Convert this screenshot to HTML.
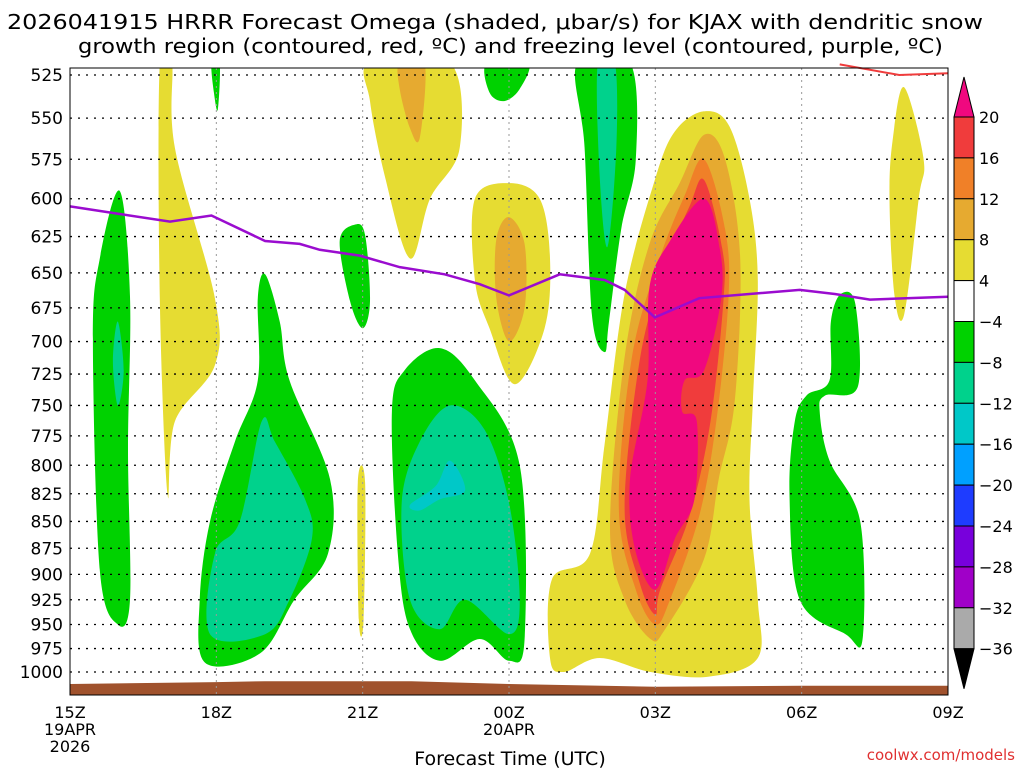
<!DOCTYPE html>
<html><head><meta charset="utf-8"><style>
body{margin:0;background:#fff;width:1024px;height:768px;overflow:hidden}
svg{display:block;font-family:"DejaVu Sans","Liberation Sans",sans-serif}
</style></head><body>
<svg id="chart" width="1024" height="768" viewBox="0 0 1024 768" xmlns="http://www.w3.org/2000/svg">
<defs><clipPath id="clip"><rect x="70" y="68" width="878" height="627"/></clipPath></defs>
<text x="7" y="29" font-size="20" textLength="976" lengthAdjust="spacingAndGlyphs">2026041915 HRRR Forecast Omega (shaded, μbar/s) for KJAX with dendritic snow</text>
<text x="78" y="53" font-size="20" textLength="865" lengthAdjust="spacingAndGlyphs">growth region (contoured, red, ºC) and freezing level (contoured, purple, ºC)</text>
<g id="shades"></g>
<g id="grid"></g>
<g id="lines"></g>
<rect x="70" y="68" width="878" height="627" fill="none" stroke="#000" stroke-width="1"/>
<g id="yaxis"></g>
<g id="xaxis"></g>
<text x="510" y="765" font-size="19" text-anchor="middle">Forecast Time (UTC)</text>
<text x="1015" y="760" font-size="15" fill="#e03030" text-anchor="end">coolwx.com/models</text>
<g id="cbar"></g>
</svg>
<script>
const pressureTicks=[525,550,575,600,625,650,675,700,725,750,775,800,825,850,875,900,925,950,975,1000];
const timeTicks=[0,3,6,9,12,15,18];
const timeLabels=["15Z","18Z","21Z","00Z","03Z","06Z","09Z"];
const dateLabels={0:["19APR","2026"],9:["20APR"]};
const cbarLevels=[20,16,12,8,4,-4,-8,-12,-16,-20,-24,-28,-32,-36];
const cbarColors=["#f03c3c","#f08028","#e6aa30","#e6dc32","#ffffff","#00d200","#00d28c","#00c8c8","#00a0ff","#1e3cff","#7800dc","#a000c8","#aaaaaa"];
const C={y:"#e6dc32",o1:"#e6aa30",o2:"#f08028",r:"#f03c3c",m:"#f0087f",g:"#00d200",t:"#00d28c",c:"#00c8c8"};
const regions=[
["g",[[1.02,595],[1.23,667],[1.19,786],[1.23,925],[0.98,950],[0.61,896],[0.47,698],[0.61,640]]],
["t",[[0.98,685],[1.1,722],[0.98,750],[0.88,715]]],
["y",[[1.84,518],[2.09,518],[2.15,568],[2.97,668],[2.97,718],[2.15,763],[2.0,826],[1.84,668]]],
["g",[[2.9,518],[3.07,518],[3.03,545],[2.95,535]]],
["g",[[4.0,651],[4.3,685],[4.5,730],[5.33,812],[5.29,880],[4.6,925],[3.9,980],[2.77,990],[2.66,925],[2.87,850],[3.38,780],[3.85,730],[3.85,668]]],
["t",[[3.93,763],[4.2,780],[4.82,830],[4.96,866],[4.5,925],[4.0,960],[2.87,960],[2.97,880],[3.48,850]]],
["g",[[5.84,617],[6.05,624],[6.15,670],[6.0,690],[5.74,670],[5.53,628]]],
["y",[[5.9,815],[6.05,815],[6.02,945],[5.92,945]]],
["y",[[6.15,518],[7.79,518],[7.99,568],[7.38,600],[6.97,640],[6.45,585],[6.15,540]]],
["o1",[[6.76,518],[7.27,518],[7.17,562],[6.97,556],[6.76,533]]],
["g",[[7.58,705],[8.3,730],[9.22,800],[9.32,965],[9.0,988],[8.4,965],[7.58,988],[6.97,955],[6.72,880],[6.6,755],[6.86,722]]],
["t",[[7.79,750],[8.5,770],[9.0,833],[9.22,925],[9.0,960],[8.1,925],[7.58,955],[6.97,925],[6.8,833],[7.17,780]]],
["c",[[7.79,796],[8.1,822],[7.58,830],[7.17,840],[6.97,835],[7.5,818]]],
["y",[[9.0,590],[9.63,600],[9.84,640],[9.73,690],[9.12,733],[8.6,690],[8.3,655],[8.3,600]]],
["o1",[[9.0,612],[9.32,630],[9.32,675],[9.0,700],[8.74,668],[8.74,627]]],
["g",[[8.55,518],[9.39,518],[9.22,533],[8.9,540],[8.6,535]]],
["g",[[10.4,518],[11.48,518],[11.6,575],[11.3,620],[11.05,685],[10.96,708],[10.7,680],[10.55,568]]],
["t",[[10.82,518],[11.17,518],[11.2,568],[11.02,632],[10.86,586]]],
["y",[[13.0,546],[13.52,555],[13.93,600],[14.1,655],[14.0,746],[13.93,830],[14.1,925],[14.1,985],[13.1,1005],[11.9,1000],[10.86,985],[10.12,1000],[9.84,985],[9.88,905],[10.66,880],[10.96,782],[11.37,665],[11.99,588],[12.4,558]]],
["o1",[[13.0,560],[13.43,575],[13.74,640],[13.63,746],[13.3,812],[13.0,885],[12.2,955],[11.9,965],[11.37,925],[11.07,855],[11.37,712],[11.88,630],[12.5,590]]],
["o2",[[13.0,575],[13.43,620],[13.5,668],[13.25,763],[12.9,845],[12.3,925],[12.0,950],[11.6,915],[11.25,837],[11.52,712],[12.09,640],[12.6,598]]],
["r",[[13.0,588],[13.37,633],[13.4,668],[13.13,763],[12.7,845],[12.1,915],[12.0,940],[11.69,910],[11.37,837],[11.69,712],[12.2,645],[12.7,605]]],
["m",[[13.0,600],[13.32,633],[13.35,668],[13.0,722],[12.6,730],[12.55,755],[12.85,763],[12.8,830],[12.4,866],[12.0,915],[11.58,875],[11.48,812],[11.84,730],[11.88,660],[12.3,628]]],
["g",[[15.8,665],[16.1,672],[16.15,735],[15.48,742],[15.37,755],[15.57,796],[16.2,850],[16.25,965],[15.9,960],[14.96,925],[14.75,826],[14.86,763],[15.1,742],[15.57,730],[15.6,685]]],
["y",[[17.1,532],[17.5,575],[17.4,600],[17.1,680],[16.9,665],[16.8,600],[16.87,562]]]
];
const freezeHours=[0,1.02,2.05,2.9,4.0,4.71,5.12,5.94,6.76,7.68,8.4,9.0,10.04,10.96,11.37,11.99,12.9,13.93,14.96,15.68,16.4,18];
const freezeP=[605,610,615,611,628,630,634,638,646,651,658,666,651,655,662,682,668,665,662,665,669,667];
const dgzHours=[15.78,17.0,18];
const dgzP=[519,525,524];
const groundHours=[0,3,4,7,9,12,15,18];
const groundP=[1013,1011,1010,1010,1013,1016,1015,1015];

const X0=70,X1=948,Y0=75,Y1=672;
const xs=h=>X0+h*(X1-X0)/18;
const ys=p=>Y0+(Math.log(p)-Math.log(525))/(Math.log(1000)-Math.log(525))*(Y1-Y0);
const NS="http://www.w3.org/2000/svg";
function mk(tag,attrs,parent){const e=document.createElementNS(NS,tag);for(const k in attrs)e.setAttribute(k,attrs[k]);parent.appendChild(e);return e;}
function smooth(pts){let d="";const n=pts.length;for(let i=0;i<n;i++){const p0=pts[(i-1+n)%n],p1=pts[i],p2=pts[(i+1)%n],p3=pts[(i+2)%n];if(i===0)d+="M"+p1[0]+","+p1[1];const c1=[p1[0]+(p2[0]-p0[0])/6,p1[1]+(p2[1]-p0[1])/6],c2=[p2[0]-(p3[0]-p1[0])/6,p2[1]-(p3[1]-p1[1])/6];d+="C"+c1[0].toFixed(1)+","+c1[1].toFixed(1)+" "+c2[0].toFixed(1)+","+c2[1].toFixed(1)+" "+p2[0].toFixed(1)+","+p2[1].toFixed(1);}return d+"Z";}
const shades=document.getElementById('shades');
const sg=mk('g',{'clip-path':'url(#clip)'},shades);
regions.forEach(([c,pts],i)=>{
  const e=mk('path',{d:smooth(pts.map(([h,p])=>[xs(h),ys(p)])),fill:C[c]},sg);
  
  
});
let gd="M"+xs(0)+",695";groundHours.forEach((h,i)=>gd+="L"+xs(h)+","+ys(groundP[i]).toFixed(1));gd+="L"+xs(18)+",695Z";
const ge=mk('path',{d:gd,fill:"#a0522d"},sg);


const grid=document.getElementById('grid');const ya=document.getElementById('yaxis');
pressureTicks.forEach(p=>{
  const y=ys(p);
  const l=mk('line',{x1:X0,x2:X1,y1:y,y2:y,stroke:"#000","stroke-dasharray":"2,6","stroke-width":1.3},grid);
  
  
  const t=mk('text',{x:63,y:y+6,"font-size":17,"text-anchor":"end"},ya);t.textContent=p;
  
  
});
const xa=document.getElementById('xaxis');
timeTicks.forEach((h,i)=>{
  const x=xs(h);
  if(i>0&&i<timeTicks.length-1){const l=mk('line',{x1:x,x2:x,y1:68,y2:695,stroke:"#999","stroke-dasharray":"2,4"},grid);
  
  }
  const t=mk('text',{x:x,y:718,"font-size":16,"text-anchor":"middle"},xa);t.textContent=timeLabels[i];
  
  
  (dateLabels[h]||[]).forEach((s,j)=>{const d=mk('text',{x:x,y:735+j*17,"font-size":16,"text-anchor":"middle"},xa);d.textContent=s;
  
  });
});
const lines=document.getElementById('lines');
const fz=mk('polyline',{points:freezeHours.map((h,i)=>xs(h)+","+ys(freezeP[i])).join(" "),fill:"none",stroke:"#9a0ccf","stroke-width":2.5},lines);


const dg=mk('polyline',{points:dgzHours.map((h,i)=>xs(h)+","+ys(dgzP[i])).join(" "),fill:"none",stroke:"#f03c3c","stroke-width":2},lines);


const cb=document.getElementById('cbar');const cx=954,cw=20,cbTop=117,step=40.9;
const tri=mk('polygon',{points:`${cx},${cbTop} ${cx+cw},${cbTop} ${cx+cw/2},${cbTop-40}`,fill:"#f0087f",stroke:"#000"},cb);


cbarColors.forEach((c,i)=>{const r=mk('rect',{x:cx,y:cbTop+i*step,width:cw,height:step,fill:c,stroke:"#000"},cb);
  
  });
const cbBot=cbTop+cbarColors.length*step;
const tb=mk('polygon',{points:`${cx},${cbBot} ${cx+cw},${cbBot} ${cx+cw/2},${cbBot+40}`,fill:"#000",stroke:"#000"},cb);


cbarLevels.forEach((v,i)=>{const t=mk('text',{x:979,y:cbTop+i*step+6,"font-size":16},cb);t.textContent=v<0?"−"+(-v):v;
  
  });
</script>
</body></html>
